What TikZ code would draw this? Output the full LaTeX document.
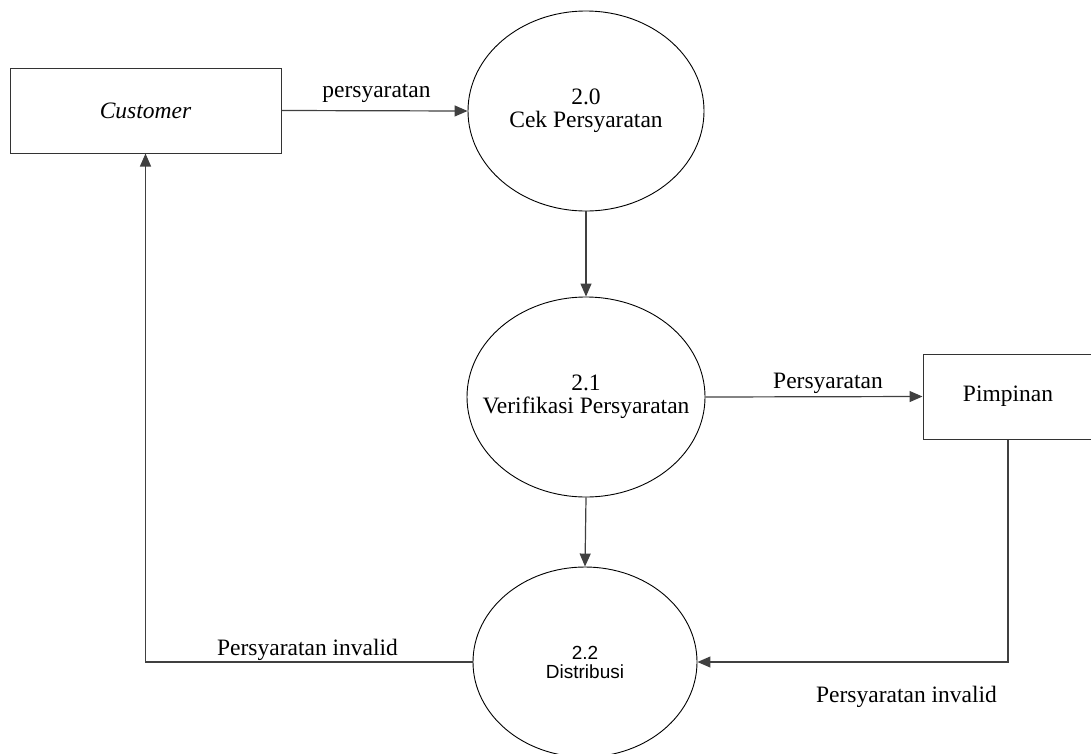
\documentclass[tikz,border=0pt]{standalone}
\usepackage{fontspec}
\setmainfont{Liberation Serif}
\newfontfamily\arialfont{Liberation Sans}
\usetikzlibrary{shapes.geometric,arrows.meta}
\tikzset{
  x=1pt, y=-1pt,
  dfdtext/.style={font=\fontsize{23.5}{23}\selectfont, align=center, inner sep=0pt},
  entity/.style={draw=black!80, line width=1pt, rectangle, inner sep=0pt,
    font=\fontsize{23.5}{23}\selectfont},
  process/.style={draw=black, line width=0.9pt, ellipse, inner sep=0pt},
  flow/.style={draw=black!75, line width=1.2pt,
    -{Triangle[length=13pt,width=11pt]}},
  flowlabel/.style={font=\fontsize{23.5}{23}\selectfont, anchor=base, inner sep=0pt}
}
\begin{document}
\begin{tikzpicture}
\useasboundingbox (0,0) rectangle (1091,753);

% external entities
\node[entity, minimum width=271pt, minimum height=85pt] (cust) at (145.5,110.5) {\itshape Customer};
\node[entity, minimum width=170pt, minimum height=85pt] (pimp) at (1008,396.5) {Pimpinan};

% processes
\node[process, minimum width=236pt, minimum height=200pt,
  label={[dfdtext]center:2.0\\Cek Persyaratan}] (p20) at (586,111) {};
\node[process, minimum width=238pt, minimum height=200pt,
  label={[dfdtext]center:2.1\\Verifikasi Persyaratan}] (p21) at (586,397) {};
\node[process, minimum width=224pt, minimum height=190pt,
  label={[dfdtext, font=\arialfont\fontsize{19}{19}\selectfont]center:2.2\\Distribusi}] (p22) at (585,662) {};

% data flows
\draw[flow] (cust.east) -- (p20.west);
\draw[flow] (p20.south) -- (p21.north);
\draw[flow] (p21.east) -- (pimp.west);
\draw[flow] (p21.south) -- (p22.north);
\draw[flow] (pimp.south) |- (p22.east);
\draw[flow] (p22.west) -| (cust.south);

% flow labels
\node[flowlabel] (l1) at (376.5,97) {persyaratan};
\node[flowlabel] (l2) at (828,388) {Persyaratan};
\node[flowlabel] (l3) at (307.5,655) {Persyaratan invalid};
\node[flowlabel] (l4) at (906.5,702) {Persyaratan invalid};
\end{tikzpicture}
\end{document}
